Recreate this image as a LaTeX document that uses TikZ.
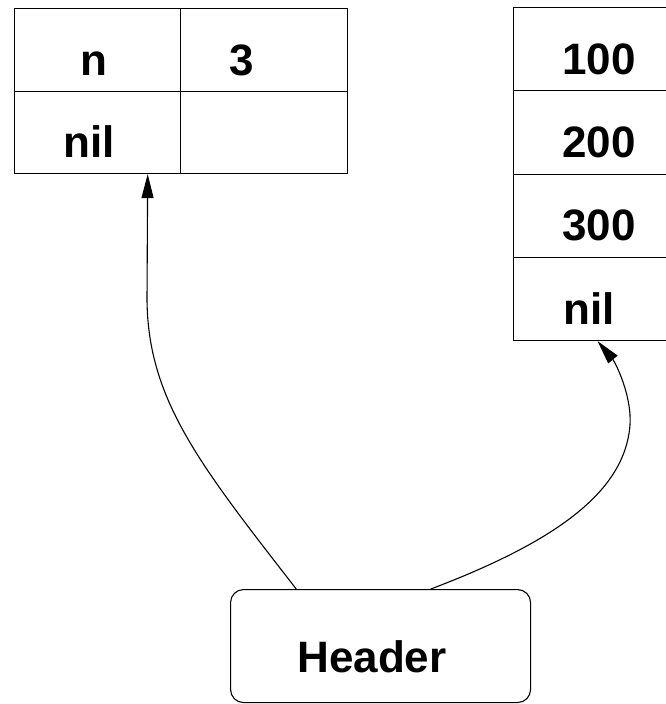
\documentclass[tikz,border=0pt]{standalone}
\usepackage{fontspec}
\setmainfont{Liberation Sans}
\usetikzlibrary{arrows.meta,calc}
\begin{document}
\begin{tikzpicture}[x=1pt,y=-1pt,line width=1.1pt,
  cell/.style={draw,rectangle,minimum width=166pt,inner sep=0pt,anchor=north west},
  lrow/.style={minimum height=82.5pt},
  rrow/.style={minimum height=83.25pt},
  lbl/.style={anchor=base,inner sep=0pt,font=\fontsize{44}{50}\selectfont\bfseries},
  hdrbox/.style={draw,rectangle,rounded corners=13pt,minimum width=300pt,minimum height=113pt,inner sep=0pt,anchor=north west},
  conn/.style={-{Triangle[length=24pt,width=12pt]}}]
\useasboundingbox (0,0) rectangle (666,704);
% left table
\node[cell,lrow] (a11) at (14,8) {};
\node[cell,lrow,minimum width=167pt] (a12) at (180,8) {};
\node[cell,lrow] (a21) at (14,90.5) {};
\node[cell,lrow,minimum width=167pt] (a22) at (180,90.5) {};
\node[lbl] (tn) at (94,75) {n};
\node[lbl] (t3) at (242,75) {3};
\node[lbl] (tnil1) at (89,157) {nil};
% right table
\node[cell,rrow] (r1) at (513,7) {};
\node[cell,rrow] (r2) at (513,90.25) {};
\node[cell,rrow] (r3) at (513,173.5) {};
\node[cell,rrow] (r4) at (513,256.75) {};
\node[lbl] (t100) at (599,74) {100};
\node[lbl] (t200) at (599,157) {200};
\node[lbl] (t300) at (599,240) {300};
\node[lbl] (tnil2) at (589,324) {nil};
% header
\node[hdrbox] (hdr) at (230,589) {};
\node[lbl] (thdr) at (372,672) {Header};
% connectors
\coordinate (s1) at ($(hdr.north west)!0.22!(hdr.north east)$);
\coordinate (e1) at ($(a21.south west)!0.8!(a21.south east)$);
\coordinate (s2) at ($(hdr.north west)!0.667!(hdr.north east)$);
\coordinate (e2) at ($(r4.south west)!0.506!(r4.south east)$);
\draw[conn] (s1) .. controls (200,465) and (148,400) .. (147,300) -- (e1);
\draw[conn] (s2) .. controls (560,540) and (625,490) .. (630,425)
  .. controls (632,395) and (615,362) .. (e2);
\end{tikzpicture}
\end{document}
